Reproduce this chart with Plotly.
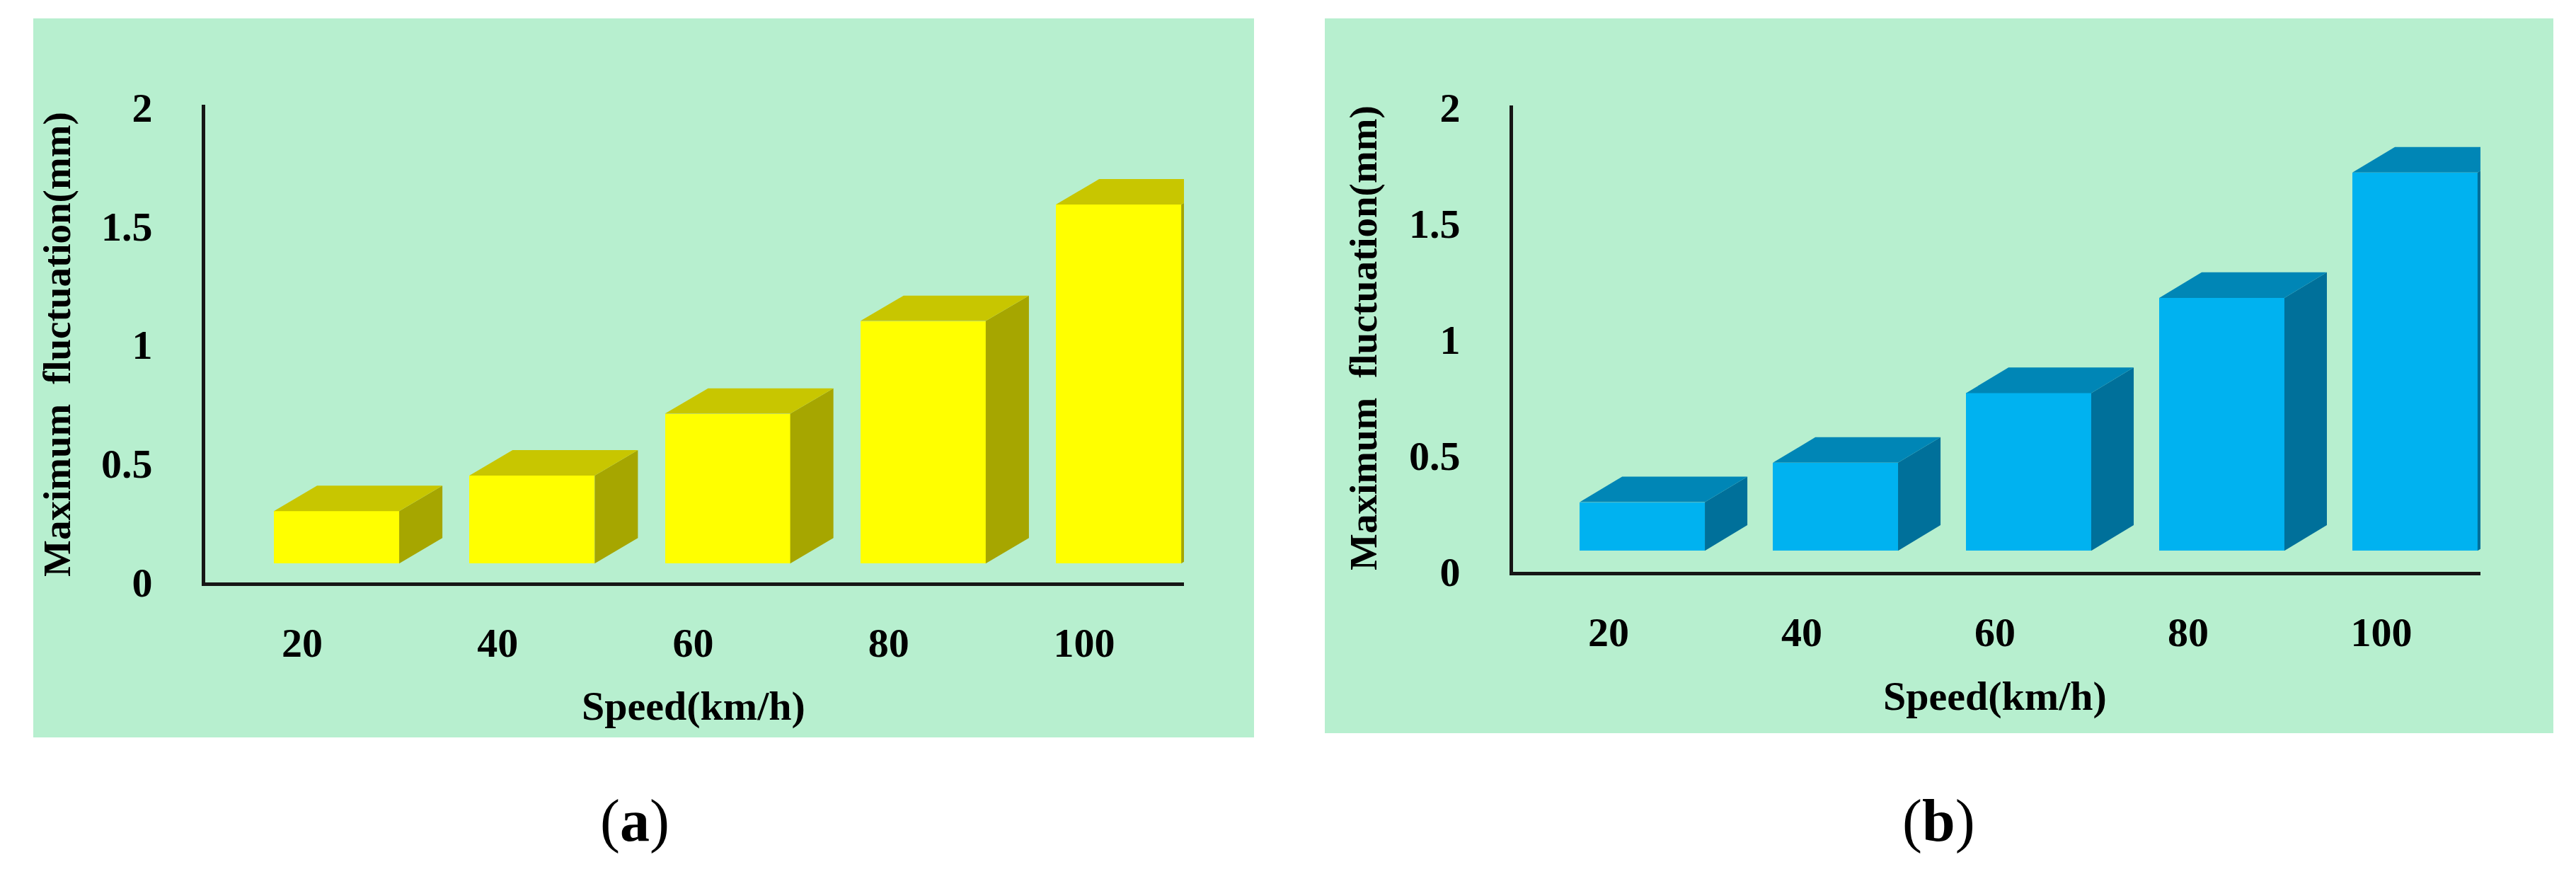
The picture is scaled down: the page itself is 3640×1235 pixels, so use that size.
import plotly.graph_objects as go

W, H = 3640, 1235
PAGE_OFFSET = 8  # default body margin of the html page

speed_labels = ["20", "40", "60", "80", "100"]
y_ticks = [0, 0.5, 1, 1.5, 2]
y_tick_text = ["0", "0.5", "1", "1.5", "2"]

# maximum fluctuation (mm), read at the front top edge of each column
fluct_a = [0.30, 0.45, 0.71, 1.10, 1.59]
fluct_b = [0.30, 0.47, 0.77, 1.18, 1.72]

BG = "#B7EFCF"
AXIS = "#161616"
FONT = "Liberation Serif"

YELLOW = dict(front="#FFFF00", top="#C8C600", side="#A6A600")
BLUE = dict(front="#00B2F0", top="#0086B6", side="#00709A")


def px_x(p):
    return (p - PAGE_OFFSET) / W


def px_y(p):
    return 1 - (p - PAGE_OFFSET) / H


def add_panel(fig, values, colors, xa, ya, geo):
    n = len(values)
    cats = list(range(n))
    off, width, dx, dy, base = geo["off"], geo["width"], geo["dx"], geo["dy"], geo["base"]

    # front face
    fig.add_trace(go.Bar(
        x=[c + off + width / 2 for c in cats],
        y=[v - base for v in values],
        base=base,
        width=width,
        marker=dict(color=colors["front"], line=dict(width=0)),
        xaxis=xa, yaxis=ya,
        customdata=values,
        hovertemplate="%{customdata:.2f} mm<extra></extra>",
        showlegend=False,
    ))

    # side and top faces of the pseudo-3D columns
    side_x, side_y, top_x, top_y = [], [], [], []
    for c, v in zip(cats, values):
        xl = c + off
        xr = xl + width
        side_x += [xr, xr + dx, xr + dx, xr, xr, None]
        side_y += [base, base + dy, v + dy, v, base, None]
        top_x += [xl, xl + dx, xr + dx, xr, xl, None]
        top_y += [v, v + dy, v + dy, v, v, None]

    for xs, ys, col in [(side_x, side_y, colors["side"]), (top_x, top_y, colors["top"])]:
        fig.add_trace(go.Scatter(
            x=xs, y=ys, mode="lines", fill="toself", fillcolor=col,
            line=dict(width=0, color=col), hoverinfo="skip",
            xaxis=xa, yaxis=ya, showlegend=False,
        ))


fig = go.Figure()

geo_a = dict(off=-0.145, width=0.641, dx=0.221, dy=0.107, base=0.08)
geo_b = dict(off=-0.150, width=0.648, dx=0.220, dy=0.110, base=0.091)

add_panel(fig, fluct_a, YELLOW, "x", "y", geo_a)
add_panel(fig, fluct_b, BLUE, "x2", "y2", geo_b)

tick_font = dict(family=FONT, size=58, color="black", weight="bold")

common_x = dict(
    tickmode="array", tickvals=list(range(len(speed_labels))), ticktext=speed_labels,
    showline=True, linecolor=AXIS, linewidth=5, showgrid=False, zeroline=False,
    ticks="", tickfont=tick_font, ticklabelstandoff=30, fixedrange=True, automargin=False,
)
common_y = dict(
    tickmode="array", tickvals=y_ticks, ticktext=y_tick_text,
    showline=True, linecolor=AXIS, linewidth=5, showgrid=False, zeroline=False,
    ticks="", tickfont=tick_font, ticklabelstandoff=58, fixedrange=True, automargin=False,
)

fig.update_layout(
    width=W, height=H,
    margin=dict(l=0, r=0, t=0, b=0, pad=0, autoexpand=False),
    paper_bgcolor="white",
    plot_bgcolor="rgba(0,0,0,0)",
    bargap=0,
    xaxis=dict(common_x, domain=[px_x(290), px_x(1673)], range=[-0.496, 4.51], anchor="y"),
    yaxis=dict(common_y, domain=[px_y(823), px_y(148)], range=[0, 2.01], anchor="x"),
    xaxis2=dict(common_x, domain=[px_x(2138), px_x(3505)], range=[-0.495, 4.513], anchor="y2"),
    yaxis2=dict(common_y, domain=[px_y(808), px_y(149)], range=[0, 2.009], anchor="x2"),
)

# panel backgrounds
for x0, x1, y0, y1 in [(47, 1772, 26, 1042), (1872, 3608, 26, 1036)]:
    fig.add_shape(type="rect", xref="paper", yref="paper", layer="below",
                  x0=px_x(x0), x1=px_x(x1), y0=px_y(y1), y1=px_y(y0),
                  fillcolor=BG, line=dict(width=0))

title_font = dict(family=FONT, size=55, color="black", weight="bold")
ytitle = "Maximum\u00a0\u00a0fluctuation(mm)"
for xc, yc in [(80, 487), (1926, 478)]:
    fig.add_annotation(text=ytitle, xref="paper", yref="paper", x=px_x(xc), y=px_y(yc),
                       textangle=-90, showarrow=False, font=title_font,
                       xanchor="center", yanchor="middle")

xtitle_font = dict(family=FONT, size=58, color="black", weight="bold")
for xa, yc in [("x", 997), ("x2", 983)]:
    fig.add_annotation(text="Speed(km/h)", xref=xa, yref="paper", x=2, y=px_y(yc),
                       showarrow=False, font=xtitle_font, xanchor="center", yanchor="middle")

cap_font = dict(family=FONT, size=84, color="black")
for label, xc in [("a", 897), ("b", 2739)]:
    fig.add_annotation(text=f"(<b>{label}</b>)", xref="paper", yref="paper",
                       x=px_x(xc), y=px_y(1160), showarrow=False, font=cap_font,
                       xanchor="center", yanchor="middle")

fig.write_html("out.html")
